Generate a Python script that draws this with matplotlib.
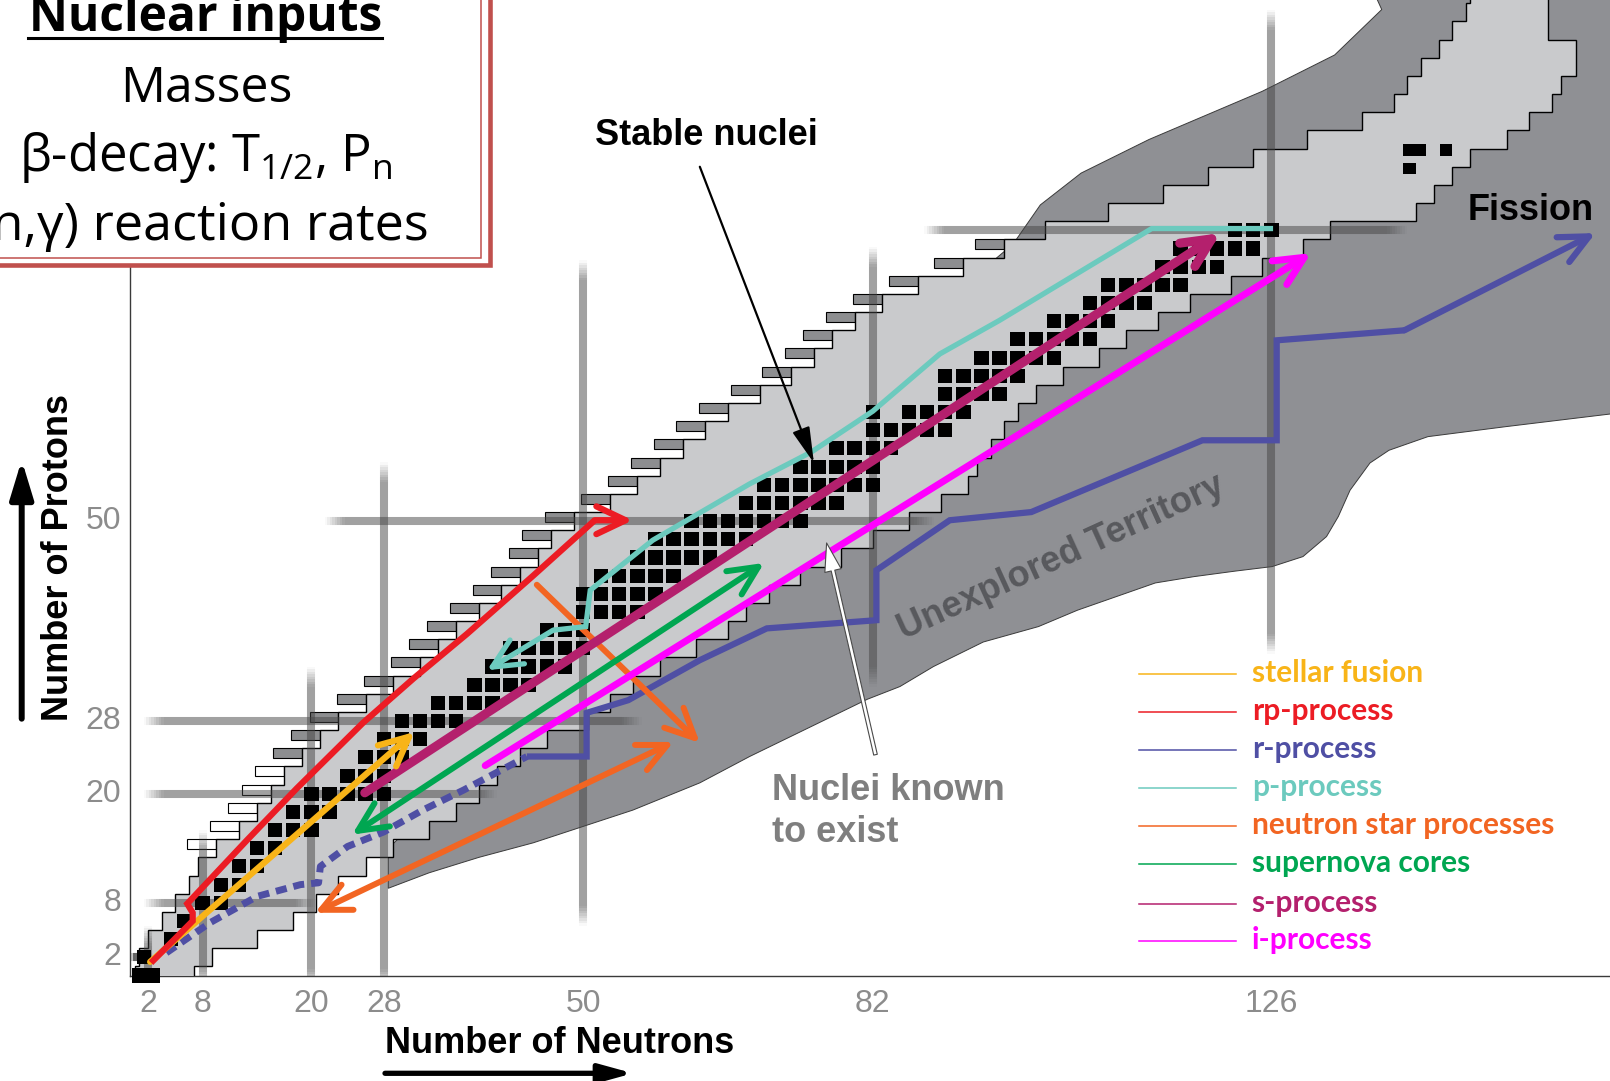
import numpy as np
import matplotlib
matplotlib.use("Agg")
import matplotlib.pyplot as plt
from matplotlib.patches import Polygon, Rectangle

plt.rcParams['mathtext.fontset'] = 'custom'
plt.rcParams['mathtext.rm'] = 'Open Sans'
plt.rcParams['mathtext.it'] = 'Open Sans:italic'
plt.rcParams['mathtext.bf'] = 'Open Sans:bold'

# ---------------------------------------------------------------- data
# Known-nuclei band: for each even proton row, lowest / highest neutron number
band_Z = list(range(0, 110, 2))
band_Nmin = [0.5, 1, 2, 3.5, 5, 6.5, 7.5, 9.5, 12, 14,
             15.5, 17, 19, 21, 23, 26, 29, 32, 34, 36,
             38.5, 41, 43, 45, 46.5, 49, 53, 56, 58.5, 61,
             63.5, 66, 69.5, 73, 75.5, 77.5, 80, 83, 87, 92,
             96.5, 101, 108, 114, 119, 124, 130, 136, 139.5, 141,
             142.5, 144.5, 146, 147.5, 148]
band_Nmax = [7, 9, 14, 18, 20.5, 23, 26, 29, 33, 36,
             38.5, 40.5, 43, 46, 50.5, 53, 55.5, 58.5, 62.5, 66,
             68, 70.5, 74, 78.5, 82, 86, 89.5, 92.5, 93.5, 95,
             96.5, 98, 100, 103, 107, 110, 113.5, 117, 121.5, 125,
             129.5, 132.5, 142, 144, 146, 148, 152, 154.5, 157, 158,
             159.6, 159.6, 156.6, 156.6, 156.6]

# Unexplored territory outline (neutron-rich side, then proton-rich side from the top)
dark_lower_N = [28.5, 33, 38.5, 44.5, 50, 55.5, 62.9, 68.4, 75, 81.4, 85, 88.7, 94.2,
                100.3, 104.6, 108.9, 113.2, 117.5, 122, 126.1, 129.5, 132.1, 133.4,
                134.7, 136.9, 139, 143.3, 151.9, 163.5]
dark_lower_Z = [9.6, 11.3, 13, 14.6, 16.4, 18.2, 21.2, 24.1, 27.3, 30.4, 31.8, 34, 36.7,
                38.4, 40.2, 41.7, 43.2, 43.9, 44.5, 45, 46.1, 48.3, 50.5,
                53.4, 56.4, 57.8, 59.3, 60.4, 61.8]
dark_upper_N = [163.5, 137.2, 138.2, 133.0, 125.0, 112.5, 105.0, 100.5, 97.5, 85, 60, 40, 28.5]
dark_upper_Z = [108.5, 108.5, 106.3, 101.3, 97.3, 92.0, 88.3, 84.8, 80.5, 70, 45, 25, 14]

# Stable nuclei, grouped by even proton number
stable_Z = list(range(0, 84, 2))
stable_N = [[1, 2.5], [1.5], [4.5], [6], [8, 10], [10, 12], [12, 14],
            [14, 16], [16, 18, 20], [18, 20, 22], [20, 22, 24, 26, 28],
            [24, 26, 28], [26, 28, 30], [28, 30, 32],
            [30, 32, 34, 36], [34, 36, 38, 40], [38, 40, 42, 44],
            [40, 42, 44, 46, 48], [42, 44, 46, 48, 50], [46, 48, 50],
            [50, 52, 54, 56], [50, 52, 54, 56, 58],
            [52, 54, 56, 58, 60], [56, 58, 60, 62, 64],
            [58, 60, 62, 64, 66, 68], [62, 64, 66, 68, 70, 72, 74],
            [68, 70, 72, 74, 76, 78], [70, 72, 74, 76, 78, 80, 82],
            [74, 76, 78, 80, 82], [78, 80, 82, 84], [82, 84, 86, 88, 90],
            [82, 86, 88, 90, 92], [90, 92, 94, 96],
            [90, 92, 94, 96, 98], [94, 96, 98, 100, 102],
            [98, 100, 102, 104, 106], [102, 104, 106, 108],
            [106, 108, 110, 112], [108, 110, 112, 114, 116],
            [114, 116, 118, 120], [116, 118, 120, 122, 124],
            [122, 124, 126]]
actinide_N = [141.2, 142.4, 145.3, 141.3]
actinide_Z = [90.8, 90.8, 90.8, 88.8]

# Magic-number bars
vbar_N = [2, 8, 20, 28, 50, 82, 126]
vbar_Z0 = [0, 0, 0, 0, 7, 33.3, 36.9]
vbar_Z1 = [5.5, 16, 34, 56.5, 78.7, 80.2, 106.3]
hbar_Z = [2, 8, 20, 28, 50, 82]
hbar_N0 = [-1, 1.5, 1.5, 1.5, 21.5, 87.7]
hbar_N1 = [2.5, 20.5, 40.5, 56.5, 88.8, 141]

x_ticks = [2, 8, 20, 28, 50, 82, 126]
y_ticks = [2, 8, 20, 28, 50]

# Process paths (neutron number, proton number)
stellar_N = [2.2, 31.4]
stellar_Z = [1.5, 26.8]
rp_N = [2.3, 6.9, 6.9, 6.3, 12.9, 18.4, 25.7, 31.3, 37.2, 44.5, 51.3, 55.5]
rp_Z = [1.4, 6.0, 6.9, 7.9, 14.9, 20.6, 27.8, 32.7, 37.6, 44.0, 50.1, 50.1]
r_dash_N = [4.0, 8.8, 14.0, 18.8, 20.8, 21.0, 24.0, 28.0, 32.3, 36.8, 43.8]
r_dash_Z = [2.5, 5.8, 8.7, 10.0, 10.2, 12.0, 14.2, 15.8, 18.2, 20.4, 24.1]
r_N = [43.8, 50.4, 50.4, 55.0, 62.9, 70.3, 82.4, 82.4, 90.5, 99.5, 118.4, 126.6, 126.6, 140.7, 161.8]
r_Z = [24.1, 24.1, 28.9, 30.3, 34.7, 38.2, 39.1, 44.6, 50.1, 51.0, 58.9, 58.9, 69.9, 71.0, 81.7]
p_N = [126.2, 112.8, 96.0, 89.4, 82.0, 75.2, 68.4, 57.7, 50.8, 50.3, 46.7, 39.4]
p_Z = [82.2, 82.2, 72.1, 68.4, 62.1, 57.6, 54.1, 47.9, 42.4, 38.4, 38.0, 33.6]
ns_a_N = [44.9, 62.9]
ns_a_Z = [43.0, 25.6]
ns_b_N = [20.4, 60.0]
ns_b_Z = [6.9, 25.7]
sn_N = [24.5, 70.0]
sn_Z = [15.5, 45.4]
s_N = [25.9, 120.4]
s_Z = [20.1, 81.7]
i_N = [39.2, 130.4]
i_Z = [23.1, 79.5]

legend_labels = ['stellar fusion', 'rp-process', 'r-process', 'p-process',
                 'neutron star processes', 'supernova cores', 's-process', 'i-process']
legend_colors = ['#f8b418', '#ec1c24', '#4f4fa4', '#6ccabe',
                 '#f26522', '#00a651', '#b4206d', '#ff00ff']

# ---------------------------------------------------------------- figure
W, H = 1610, 1081
X0, Y0 = 130.2, 975.5
PX_N, PX_Z = 9.056, 9.087
fig = plt.figure(figsize=(W / 100, H / 100), dpi=100)
fig.patch.set_facecolor('white')
ax = fig.add_axes([X0 / W, (H - Y0) / H, (W - X0) / W, Y0 / H])
ax.set_xlim(0, (W - X0) / PX_N)
ax.set_ylim(0, Y0 / PX_Z)
ax.set_xticks([])
ax.set_yticks([])
ax.patch.set_alpha(0)
for s in ('top', 'right'):
    ax.spines[s].set_visible(False)
for s in ('left', 'bottom'):
    ax.spines[s].set_color('#3a3a3a')
    ax.spines[s].set_linewidth(1.0)

col = dict(zip(legend_labels, legend_colors))
BAND = '#c9cacc'
DARK = '#8f9094'

# unexplored territory
dark_verts = list(zip(dark_lower_N, dark_lower_Z)) + list(zip(dark_upper_N, dark_upper_Z))
ax.add_patch(Polygon(dark_verts, closed=True, fc=DARK, ec='#3a3a3a', lw=0.7, zorder=1))

# ledges along the proton-rich edge
for z, nmin in zip(band_Z, band_Nmin):
    if 14 <= z <= 80:
        fc = 'white' if z <= 22 else '#8d8e90'
        ax.add_patch(Rectangle((nmin - 3.2, z + 1 - 1.1), 3.2, 1.1, fc=fc, ec='black',
                               lw=0.8, zorder=2))

# known-nuclei band (stepped outline)
verts = []
for z, n in zip(band_Z, band_Nmin):
    verts += [(n, z - 1), (n, z + 1)]
for z, n in zip(band_Z[::-1], band_Nmax[::-1]):
    verts += [(n, z + 1), (n, z - 1)]
ax.add_patch(Polygon(verts, closed=True, fc=BAND, ec='black', lw=1.0, zorder=3))


# magic-number bars with soft ends
def magic_bar(p0, p1, lw=5.8, color='#444444', alpha=0.5, fade=2.2, steps=8):
    p0, p1 = np.asarray(p0, float), np.asarray(p1, float)
    L = np.hypot(*(p1 - p0))
    u = (p1 - p0) / L
    a, b = p0 + u * fade, p1 - u * fade
    kw = dict(color=color, lw=lw, solid_capstyle='butt', zorder=4)
    ax.plot([a[0], b[0]], [a[1], b[1]], alpha=alpha, **kw)
    for k in range(steps):
        t0, t1 = k * fade / steps, (k + 1) * fade / steps
        al = alpha * (k + 0.5) / steps
        for s0, d in ((p0, u), (p1, -u)):
            q0, q1 = s0 + d * t0, s0 + d * t1
            ax.plot([q0[0], q1[0]], [q0[1], q1[1]], alpha=al, **kw)


for n, z0, z1 in zip(vbar_N, vbar_Z0, vbar_Z1):
    magic_bar((n, z0 - 1.5), (n, z1))
for z, n0, n1 in zip(hbar_Z, hbar_N0, hbar_N1):
    magic_bar((n0, z), (n1, z))

# stable nuclei
SQ_W, SQ_H = 1.6, 1.55
for z, ns in zip(stable_Z, stable_N):
    for n in ns:
        ax.add_patch(Rectangle((n - SQ_W / 2, z - SQ_H / 2), SQ_W, SQ_H, fc='black',
                               ec='none', zorder=5, clip_on=False))
for n, z in zip(actinide_N, actinide_Z):
    ax.add_patch(Rectangle((n - 0.7, z - 0.65), 1.4, 1.3, fc='black', ec='none', zorder=5))


# process paths
def process(Ns, Zs, color, lw, head='->', z=7):
    if len(Ns) > 2:
        ax.plot(Ns[:-1], Zs[:-1], color=color, lw=lw, solid_joinstyle='miter',
                solid_capstyle='butt', zorder=z)
    ax.annotate('', xy=(Ns[-1], Zs[-1]), xytext=(Ns[-2], Zs[-2]), zorder=z,
                arrowprops=dict(arrowstyle=f'{head},head_length=2.1,head_width=1.0',
                                mutation_scale=10, color=color, lw=lw,
                                shrinkA=0, shrinkB=0))


ax.plot(r_dash_N, r_dash_Z, color=col['r-process'], lw=5, dashes=(1.6, 1.0),
        dash_capstyle='butt', zorder=6)
process(r_N, r_Z, col['r-process'], 4.5)
process(ns_b_N, ns_b_Z, col['neutron star processes'], 4.3, head='<->')
process(ns_a_N, ns_a_Z, col['neutron star processes'], 4.3)
process(sn_N, sn_Z, col['supernova cores'], 4.3, head='<->')
process(i_N, i_Z, col['i-process'], 5.0)
process(s_N, s_Z, col['s-process'], 6.5)
process(p_N, p_Z, col['p-process'], 3.8)
process(stellar_N, stellar_Z, col['stellar fusion'], 4.5)
process(rp_N, rp_Z, col['rp-process'], 4.5)

# tick labels at the magic numbers
tick_kw = dict(fontsize=23, color='#8c8c8c', family='Liberation Sans', clip_on=False)
for n in x_ticks:
    ax.text(n, -3.1, str(n), ha='center', va='center', **tick_kw)
for z in y_ticks:
    ax.text(-1.0, z, str(z), ha='right', va='center', **tick_kw)

ax.text(102.8, 46.0, 'Unexplored Territory', rotation=24.5, rotation_mode='anchor',
        ha='center', va='center', fontsize=26, fontweight='bold', color='#58595d',
        family='Liberation Sans', zorder=6)

ax.annotate('', xy=(75.5, 56.4), xytext=(62.9, 89.0), zorder=9,
            arrowprops=dict(arrowstyle='-|>,head_length=2.2,head_width=0.55',
                            mutation_scale=10, lw=1.6, color='black', shrinkA=0, shrinkB=0))
ax.annotate('', xy=(76.9, 47.6), xytext=(82.3, 24.3), zorder=9,
            arrowprops=dict(arrowstyle='simple,head_length=1.7,head_width=1.0,tail_width=0.22',
                            mutation_scale=12, fc='white', ec='#4a4a4a', lw=0.8,
                            shrinkA=0, shrinkB=0))

# ---------------------------------------------------------------- overlay (pixel space)
ov = fig.add_axes([0, 0, 1, 1], zorder=10)
ov.set_xlim(0, W)
ov.set_ylim(H, 0)
ov.axis('off')
ov.patch.set_alpha(0)

bold = dict(fontsize=26, fontweight='bold', family='Liberation Sans')
ov.text(706.8, 145, 'Stable nuclei', ha='center', va='baseline', color='black', **bold)
ov.text(1531, 220, 'Fission', ha='center', va='baseline', color='black', **bold)
ov.text(771.7, 800, 'Nuclei known', ha='left', va='baseline', color='#7f7f7f', **bold)
ov.text(771.7, 842, 'to exist', ha='left', va='baseline', color='#7f7f7f', **bold)

ov.text(385, 1053, 'Number of Neutrons', ha='left', va='baseline', color='black', **bold)
ov.annotate('', xy=(633, 1073.3), xytext=(385, 1073.3),
            arrowprops=dict(arrowstyle='-|>,head_length=2.0,head_width=0.55',
                            mutation_scale=10, lw=3.8, color='black', shrinkA=0, shrinkB=0))
ov.text(68, 557.5, 'Number of Protons', rotation=90, rotation_mode='anchor',
        ha='center', va='baseline', color='black', **bold)
ov.annotate('', xy=(21.7, 460), xytext=(21.7, 718.7),
            arrowprops=dict(arrowstyle='-|>,head_length=2.3,head_width=0.7',
                            mutation_scale=10, lw=4.3, color='black', shrinkA=0, shrinkB=0))

# legend
legend_y = [674, 712, 750, 788, 826, 864, 904, 940.7]
for lab, c, y in zip(legend_labels, legend_colors, legend_y):
    ov.plot([1139.3, 1235.7], [y, y], color=c, lw=1.1)
    ov.text(1251.7, y + 8, lab, color=c, fontsize=21.5, fontweight='bold', family='Lato',
            ha='left', va='baseline')

# nuclear-inputs box
BOX = '#c0504d'
ov.add_patch(Rectangle((-30, -30), 489.5 + 30, 265 + 30, fc='white', ec=BOX, lw=3.3, zorder=1))
ov.add_patch(Rectangle((-30, -30), 481 + 30, 258 + 30, fc='none', ec=BOX, lw=1.1, zorder=2))
box_kw = dict(ha='center', va='baseline', color='black', family='Open Sans', zorder=3)
ov.text(206, 31, 'Nuclear inputs', fontsize=34.5, fontweight='bold', **box_kw)
ov.plot([28, 382], [38, 38], color='black', lw=2.2, zorder=3)
ov.text(206, 102, 'Masses', fontsize=36, **box_kw)
ov.text(206, 171, 'β-decay: T$_{1/2}$, P$_{\\mathrm{n}}$', fontsize=36.5, **box_kw)
ov.text(202, 240, '(n,γ) reaction rates', fontsize=37.5, **box_kw)

fig.savefig('out.png', dpi=100, facecolor='white')
